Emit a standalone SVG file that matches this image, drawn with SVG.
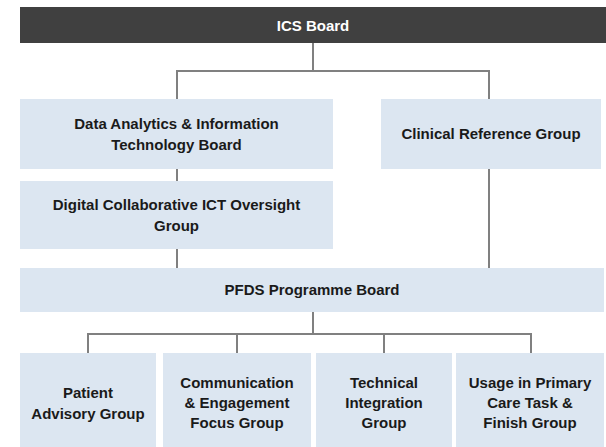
<svg xmlns="http://www.w3.org/2000/svg" width="606" height="447" viewBox="0 0 606 447">
<style>
.box{fill:#dce6f1}
.top{fill:#404040}
.t{font-family:"Liberation Sans",Arial,sans-serif;font-size:15px;font-weight:bold;fill:#1a1a1a;text-anchor:middle}
.tw{fill:#ffffff}
.c{stroke:#808080;stroke-width:2;fill:none}
</style>
<rect width="606" height="447" fill="#ffffff"/>
<g id="connectors">
<path class="c" d="M313 43V71M177 99V71H489V99"/>
<path class="c" d="M177 169V181"/>
<path class="c" d="M177 249V268"/>
<path class="c" d="M489 169V268"/>
<path class="c" d="M313 312V334M88 353V334H531V353M237 334V353M384 334V353"/>
</g>
<g id="ics-board">
<rect class="top" x="20" y="7" width="586" height="36"/>
<text class="t tw" x="313" y="31">ICS Board</text>
</g>
<g id="data-analytics">
<rect class="box" x="20" y="99" width="313" height="70"/>
<text class="t" x="176.5" y="129">Data Analytics &amp; Information</text>
<text class="t" x="176.5" y="150">Technology Board</text>
</g>
<g id="clinical-reference">
<rect class="box" x="381" y="99" width="220" height="70"/>
<text class="t" x="491" y="139">Clinical Reference Group</text>
</g>
<g id="digital-collaborative">
<rect class="box" x="20" y="181" width="313" height="68"/>
<text class="t" x="176.5" y="210">Digital Collaborative ICT Oversight</text>
<text class="t" x="176.5" y="231">Group</text>
</g>
<g id="pfds-board">
<rect class="box" x="20" y="268" width="584" height="44"/>
<text class="t" x="312" y="295">PFDS Programme Board</text>
</g>
<g id="patient-advisory">
<rect class="box" x="20" y="353" width="136" height="94"/>
<text class="t" x="88" y="398">Patient</text>
<text class="t" x="88" y="419">Advisory Group</text>
</g>
<g id="communication">
<rect class="box" x="163" y="353" width="148" height="94"/>
<text class="t" x="237" y="388">Communication</text>
<text class="t" x="237" y="408">&amp; Engagement</text>
<text class="t" x="237" y="428">Focus Group</text>
</g>
<g id="technical-integration">
<rect class="box" x="316" y="353" width="136" height="94"/>
<text class="t" x="384" y="388">Technical</text>
<text class="t" x="384" y="408">Integration</text>
<text class="t" x="384" y="428">Group</text>
</g>
<g id="usage-primary-care">
<rect class="box" x="456" y="353" width="148" height="94"/>
<text class="t" x="530" y="388">Usage in Primary</text>
<text class="t" x="530" y="408">Care Task &amp;</text>
<text class="t" x="530" y="428">Finish Group</text>
</g>
</svg>
